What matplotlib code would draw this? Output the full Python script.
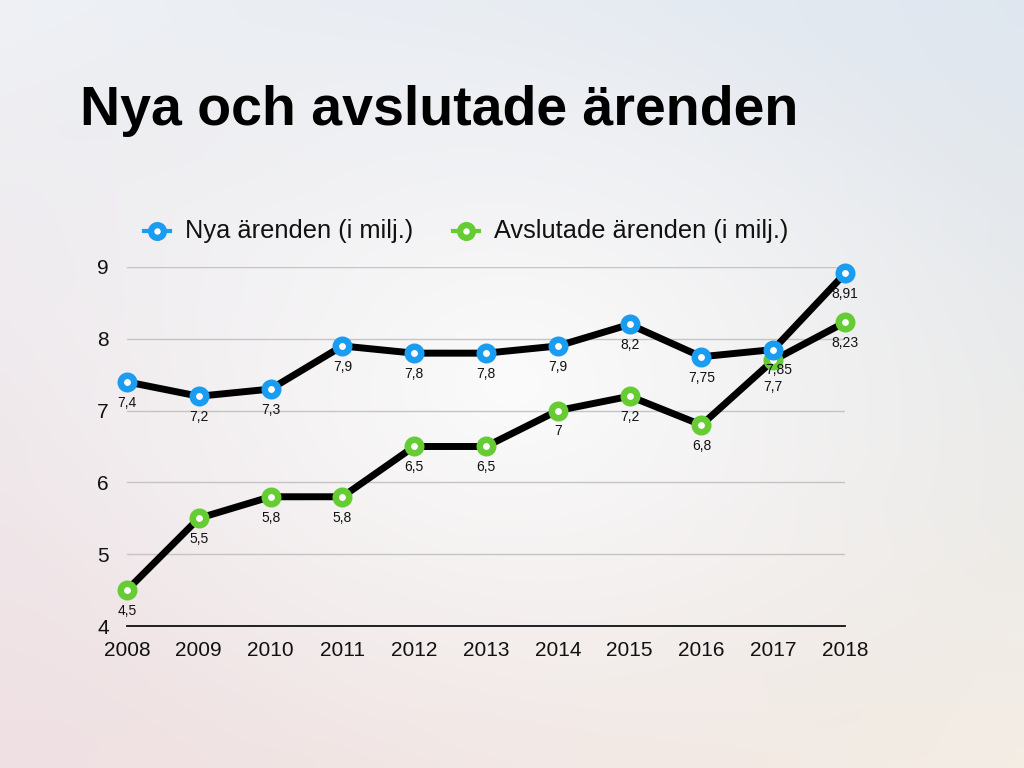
import numpy as np
import matplotlib
matplotlib.use("Agg")
import matplotlib.pyplot as plt
from matplotlib.lines import Line2D

plt.rcParams["font.family"] = ["Liberation Sans", "DejaVu Sans"]

years = [2008, 2009, 2010, 2011, 2012, 2013, 2014, 2015, 2016, 2017, 2018]
nya = [7.4, 7.2, 7.3, 7.9, 7.8, 7.8, 7.9, 8.2, 7.75, 7.85, 8.91]
avslutade = [4.5, 5.5, 5.8, 5.8, 6.5, 6.5, 7.0, 7.2, 6.8, 7.7, 8.23]
y_ticks = [4, 5, 6, 7, 8, 9]

title = "Nya och avslutade ärenden"
label_nya = "Nya ärenden (i milj.)"
label_avsl = "Avslutade ärenden (i milj.)"

BLUE = "#1a9cf0"
GREEN = "#66cc33"


def fmt(v):
    return f"{v:g}".replace(".", ",")


def background(fig):
    # soft slide gradient: bluish top, pink bottom-left, warm bottom-right
    h, w = 96, 128
    tl = np.array([0.935, 0.945, 0.960])
    tr = np.array([0.875, 0.905, 0.940])
    bl = np.array([0.940, 0.880, 0.890])
    br = np.array([0.955, 0.930, 0.895])
    yy, xx = np.mgrid[0:1:h * 1j, 0:1:w * 1j]
    img = (tl * ((1 - xx) * (1 - yy))[..., None] + tr * (xx * (1 - yy))[..., None]
           + bl * ((1 - xx) * yy)[..., None] + br * (xx * yy)[..., None])
    d = np.sqrt(((xx - 0.5) / 0.55) ** 2 + ((yy - 0.5) / 0.55) ** 2)
    wgt = np.clip(1 - d, 0, 1)[..., None] ** 1.2
    img = img * (1 - wgt) + np.array([0.985, 0.985, 0.985]) * wgt
    bg = fig.add_axes([0, 0, 1, 1], zorder=-10)
    bg.imshow(img, aspect="auto", interpolation="bicubic", extent=[0, 1, 0, 1])
    bg.axis("off")


fig = plt.figure(figsize=(10.24, 7.68), dpi=100)
background(fig)

ax = fig.add_axes([127 / 1024, 1 - 626 / 768, 718 / 1024, 359 / 768])
ax.patch.set_alpha(0)

ax.plot(years, avslutade, color="black", lw=5, zorder=3, clip_on=False, solid_capstyle="round")
ax.plot(years, nya, color="black", lw=5, zorder=3, clip_on=False, solid_capstyle="round")
ax.plot(years, avslutade, ls="none", marker="o", ms=9.7, mew=4.7, mec=GREEN, mfc="white",
        zorder=4, clip_on=False)
ax.plot(years, nya, ls="none", marker="o", ms=9.7, mew=4.7, mec=BLUE, mfc="white",
        zorder=5, clip_on=False)

# labels below each point; the two 2017 labels sit very close, nudge them apart a little
for series, nudge in ((avslutade, (0, -4)), (nya, (4, 0))):
    for i, (x, v) in enumerate(zip(years, series)):
        dx, dy = nudge if i == len(years) - 2 else (0, 0)
        ax.annotate(fmt(v), (x, v), xytext=(dx, -15 + dy), textcoords="offset points",
                    ha="center", va="center", fontsize=10, color="#111111", zorder=6)

ax.set_xlim(years[0], years[-1])
ax.set_ylim(y_ticks[0], y_ticks[-1])
ax.set_xticks(years)
ax.set_yticks(y_ticks)
ax.tick_params(axis="both", length=0, labelsize=15, colors="#111111")
ax.tick_params(axis="x", pad=11)
ax.tick_params(axis="y", pad=13)
ax.grid(axis="y", color="#c4c4c4", lw=1)
ax.set_axisbelow(True)
for side in ("left", "right", "top"):
    ax.spines[side].set_visible(False)
ax.spines["bottom"].set_linewidth(1.3)
ax.spines["bottom"].set_color("#111111")

fig.text(80 / 1024, 1 - 111 / 768, title, fontsize=40, fontweight="bold",
         ha="left", va="center", color="black")

# legend
ly = 1 - 231 / 768
for mx, col, txt in ((157, BLUE, label_nya), (466, GREEN, label_avsl)):
    fig.add_artist(Line2D([(mx - 13) / 1024, (mx + 13) / 1024], [ly, ly], color=col, lw=3,
                          transform=fig.transFigure))
    fig.add_artist(Line2D([mx / 1024], [ly], ls="none", marker="o", ms=9.2, mew=4.5,
                          mec=col, mfc="white", transform=fig.transFigure))
    fig.text((mx + 28) / 1024, ly, txt, fontsize=18.3, ha="left", va="center", color="#111111")

fig.savefig("out.png", dpi=100)
